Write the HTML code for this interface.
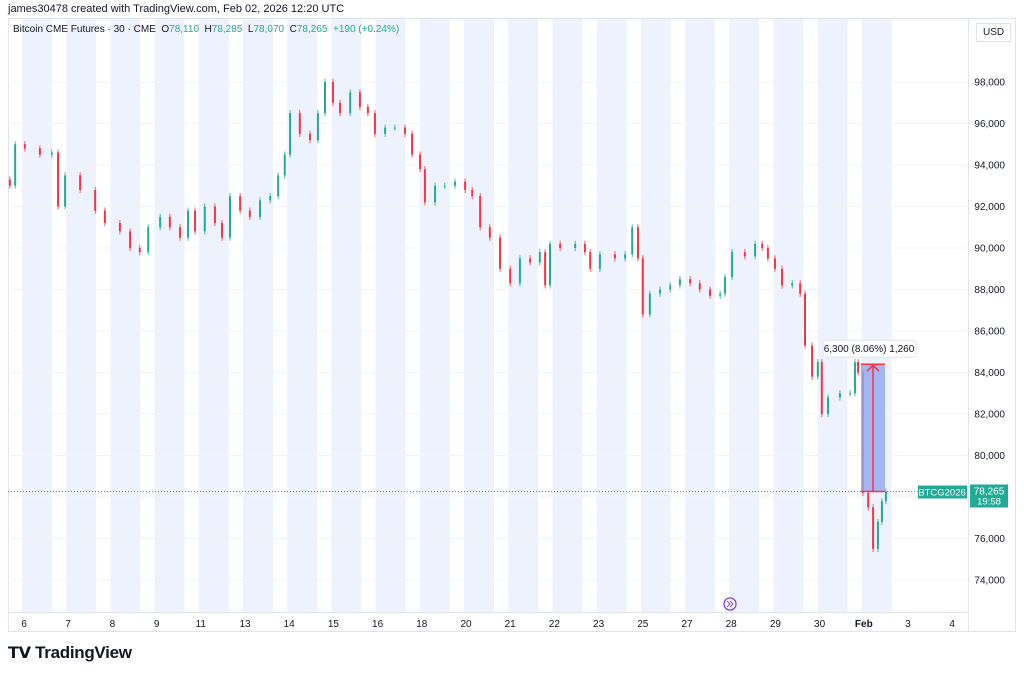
<!DOCTYPE html>
<html><head><meta charset="utf-8">
<style>
body{margin:0;width:1024px;height:674px;background:#fff;font-family:"Liberation Sans",sans-serif;overflow:hidden;position:relative}
.t{position:absolute;white-space:nowrap}
</style></head><body>
<div class="t" style="left:8px;top:3px;font-size:11px;color:#131722">james30478 created with TradingView.com, Feb 02, 2026 12:20 UTC</div>
<svg id="c" width="1024" height="674" style="position:absolute;left:0;top:0"></svg>
<div class="t" style="left:13px;top:24px;font-size:10px;color:#131722">Bitcoin CME Futures · 30 · CME &nbsp;O<span style="color:#22ab94">78,110</span> &nbsp;H<span style="color:#22ab94">78,285</span> &nbsp;L<span style="color:#22ab94">78,070</span> &nbsp;C<span style="color:#22ab94">78,265</span> &nbsp;<span style="color:#22ab94">+190 (+0.24%)</span></div>
<div class="t" style="left:976px;top:23px;font-size:10px;color:#131722;border:1px solid #e0e3eb;padding:3px 6px;background:#fff">USD</div>
<div class="t" style="left:8px;top:643px;font-size:17px;font-weight:bold;color:#131722;letter-spacing:-0.3px"><span style="font-size:16px">𝗧𝗩</span> TradingView</div>
<script>
const times=[-0.32,-0.2,0.02,0.36,0.63,0.77,0.93,1.27,1.61,1.83,2.17,2.4,2.62,2.81,3.08,3.3,3.53,3.71,3.87,4.09,4.32,4.48,4.66,4.89,5.11,5.34,5.57,5.75,5.9,6.02,6.24,6.47,6.65,6.81,6.99,7.15,7.38,7.6,7.78,7.94,8.17,8.39,8.62,8.78,8.96,9.07,9.3,9.52,9.75,9.98,10.14,10.32,10.54,10.77,11,11.22,11.45,11.67,11.79,11.9,12.13,12.47,12.69,12.81,13.03,13.37,13.6,13.76,13.89,14,14.16,14.39,14.62,14.84,15.07,15.29,15.52,15.75,15.86,16.02,16.31,16.54,16.7,16.83,16.99,17.15,17.38,17.56,17.67,17.83,17.96,18.05,18.19,18.46,18.69,18.8,18.87,18.98,19.1,19.21,19.32,19.41,19.5];
const prices=[93000,95000,94800,94500,94600,92000,93500,92800,91800,91200,90800,90000,89800,91000,91500,91000,90500,91800,90800,92000,91200,90500,92500,91800,91500,92300,92500,93500,94500,96500,95500,95200,96500,98000,97000,96500,97500,96800,96500,95500,95800,95800,95500,94500,93800,92200,93000,93000,93200,92800,92500,91000,90500,89000,88300,89500,89300,89800,88200,90200,90000,90200,89800,89000,89700,89500,89700,91000,89500,86800,87800,88000,88200,88500,88300,88000,87700,87800,88600,89800,89600,90200,90000,89500,89000,88200,88300,87800,85300,83800,84500,82000,82800,83000,83000,84500,84000,78200,77500,75500,76800,77800,78265];
const yTicks=[74000,76000,78000,80000,82000,84000,86000,88000,90000,92000,94000,96000,98000];
const xLabels=["6","7","8","9","11","13","14","15","16","18","20","21","22","23","25","27","28","29","30","Feb","3","4"];
const sessionCount=20;
const lastPrice=78265, measHigh=84400;
const NS="http://www.w3.org/2000/svg";
const svg=document.getElementById('c');
function y(v){return 82+(98000-v)*0.02075;}
function xs(i){return 24+i*44.2;}
function el(t,a,p){const e=document.createElementNS(NS,t);for(const k in a)e.setAttribute(k,a[k]);(p||svg).appendChild(e);return e;}
const frame=el('rect',{x:8.5,y:18.5,width:1007,height:613,fill:'none',stroke:'#e0e3eb'});


el('line',{x1:8,y1:612.5,x2:968,y2:612.5,stroke:'#e0e3eb'});
el('line',{x1:968.5,y1:18,x2:968.5,y2:632,stroke:'#e0e3eb'});
xLabels.forEach((l,i)=>{
  if(i<sessionCount){
    const b=el('rect',{x:xs(i)-2,y:19,width:30,height:593,fill:'#eef2fd'});
    
    
  }
  const t=el('text',{x:xs(i),y:627,'font-size':10,fill:'#131722','text-anchor':'middle','font-weight':l==='Feb'?'bold':'normal'});
  t.textContent=l;
  
  
});
yTicks.forEach(v=>{
  el('line',{x1:8,y1:y(v),x2:968,y2:y(v),stroke:'#f3f4f7'});
  const t=el('text',{x:1005,y:y(v)+3.5,'font-size':10,fill:'#131722','text-anchor':'end'});
  t.textContent=v.toLocaleString('en-US');
  
  
});
for(let i=0;i<prices.length;i++){
  const o=i?prices[i-1]:prices[0]+300,c=prices[i];
  const col=c>=o?'#22ab94':'#f23645';
  const x=xs(times[i]);
  el('line',{x1:x,y1:y(Math.max(o,c)+150),x2:x,y2:y(Math.min(o,c)-150),stroke:col,'stroke-width':0.8});
  const r=el('rect',{x:x-1,y:y(Math.max(o,c)),width:2,height:Math.max(1,Math.abs(y(o)-y(c))),fill:col});
  
  
}
const yl=y(lastPrice),yh=y(measHigh);
el('line',{x1:8,y1:yl,x2:968,y2:yl,stroke:'#22ab94','stroke-dasharray':'1 2'});
const m=el('rect',{x:861,y:yh,width:24,height:yl-yh,fill:'#8fa7ee',opacity:0.8});


el('line',{x1:861,y1:yh,x2:885,y2:yh,stroke:'#f23645','stroke-width':1.5});
el('line',{x1:861,y1:yl,x2:885,y2:yl,stroke:'#f23645','stroke-width':1.5});
el('line',{x1:873,y1:yh,x2:873,y2:yl,stroke:'#f23645','stroke-width':1.5});
el('polyline',{points:`${867},${yh+7} 873,${yh+1} ${879},${yh+7}`,fill:'none',stroke:'#f23645','stroke-width':1.5});
el('rect',{x:823,y:yh-24,width:93,height:17,rx:3,fill:'#fff',stroke:'#e0e3eb'});
const lt=el('text',{x:869,y:yh-12,'font-size':10,fill:'#131722','text-anchor':'middle'});
lt.textContent='6,300 (8.06%) 1,260';


el('rect',{x:918,y:yl-6,width:49,height:13,fill:'#22ab94'});
const st=el('text',{x:942,y:yl+4,'font-size':9.5,fill:'#fff','text-anchor':'middle'});
st.textContent='BTCG2026';


el('rect',{x:970,y:yl-7,width:38,height:23,fill:'#22ab94'});
const pt=el('text',{x:989,y:yl+3,'font-size':10,fill:'#fff','text-anchor':'middle'});
pt.textContent='78,265';


const tt=el('text',{x:989,y:yl+13,'font-size':9.5,fill:'#fff','text-anchor':'middle'});
tt.textContent='19:58';
const ic=el('circle',{cx:730,cy:604,r:6,fill:'#fff',stroke:'#7e3fd6','stroke-width':1.3});


el('path',{d:'M727 601 l3 3 -3 3 M730 601 l3 3 -3 3',fill:'none',stroke:'#7e3fd6','stroke-width':1});
</script>
</body></html>
